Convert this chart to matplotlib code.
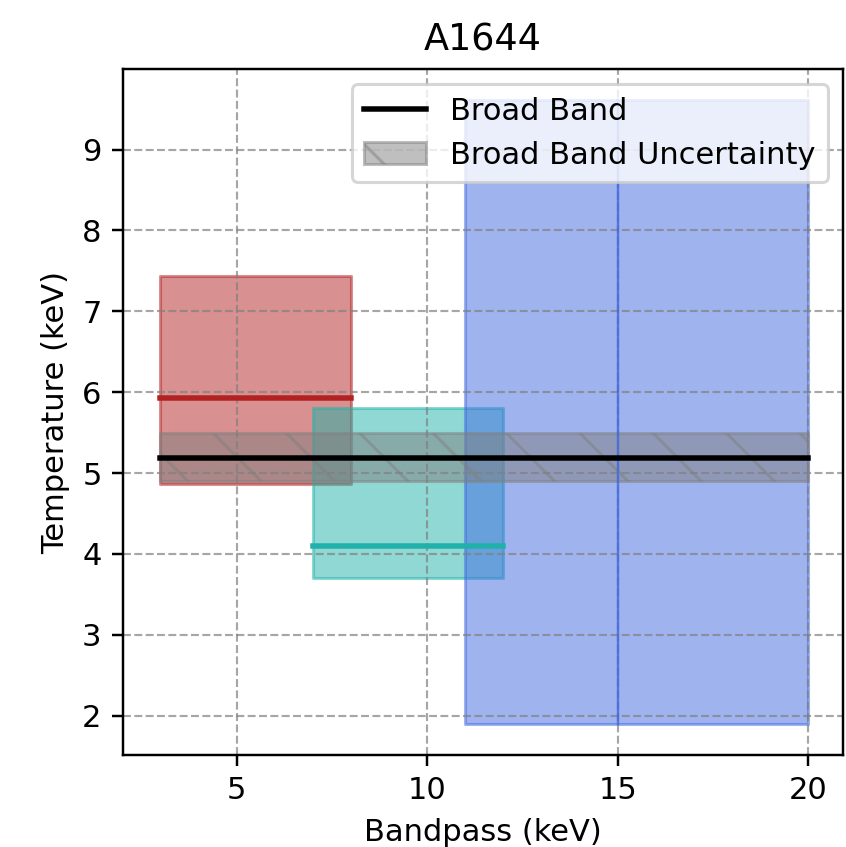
import matplotlib
matplotlib.use("Agg")
import matplotlib.pyplot as plt

# Band-limited temperature fits for A1644
band_lo = [3, 7, 11]            # keV
band_hi = [8, 12, 20]           # keV
temp = [5.93, 4.10, None]       # best-fit temperature (keV)
temp_lo = [4.86, 3.70, 1.90]    # lower bound (keV)
temp_hi = [7.44, 5.81, 9.61]    # upper bound (keV)
colors = ["firebrick", "lightseagreen", "royalblue"]
blue_marker_x = 15              # keV

# Broad-band fit
broad_lo, broad_hi = 3, 20
broad_temp = 5.19
broad_err_lo, broad_err_hi = 4.90, 5.50

DPI = 220
fig = plt.figure(figsize=(846 / DPI, 847 / DPI), dpi=DPI)
ax = fig.add_axes([123 / 846, 92 / 847, 720 / 846, 686 / 847])

for lo, hi, t, tl, th, c in zip(band_lo, band_hi, temp, temp_lo, temp_hi, colors):
    ax.fill_between([lo, hi], [tl, tl], [th, th], color=c, alpha=0.5)
    if t is not None:
        ax.plot([lo, hi], [t, t], color=c, lw=1.8)

ax.plot([blue_marker_x, blue_marker_x], [temp_lo[2], temp_hi[2]],
        color="royalblue", lw=0.8, alpha=0.8)

ax.plot([broad_lo, broad_hi], [broad_temp, broad_temp], color="black", lw=1.8,
        label="Broad Band")
ax.fill_between([broad_lo, broad_hi], [broad_err_lo] * 2, [broad_err_hi] * 2,
                color="gray", alpha=0.5, hatch="\\",
                label="Broad Band Uncertainty")

ax.set_xlim(2.02, 20.91)
ax.set_xticks([5, 10, 15, 20])
ax.set_yticks(range(2, 10))
ax.grid(True, linestyle="--", color="gray", alpha=0.7, lw=0.7)
ax.set_xlabel("Bandpass (keV)")
ax.set_ylabel("Temperature (keV)")
ax.set_title("A1644")
ax.legend(loc="upper right")

fig.savefig("out.png", dpi=DPI)
